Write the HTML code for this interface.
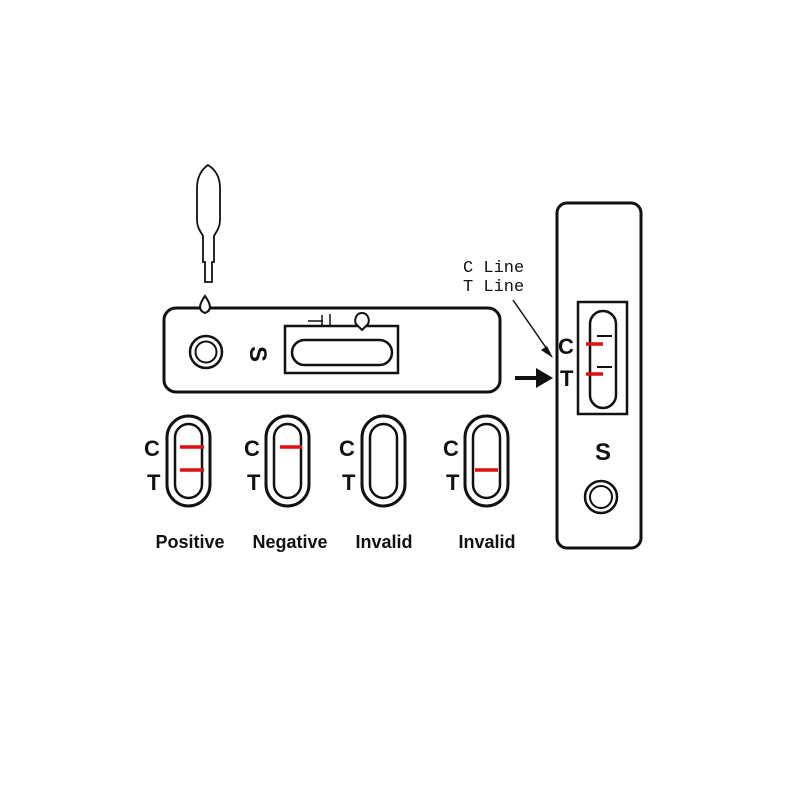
<!DOCTYPE html>
<html><head><style>body{margin:0;background:#fff}</style></head><body>
<svg width="800" height="800" xmlns="http://www.w3.org/2000/svg" font-family="Liberation Sans, sans-serif">
<rect width="800" height="800" fill="#fff"/>
<g fill="none" stroke="#111" stroke-width="2">
<!-- dropper -->
<path d="M208,165 C201,170 197,178 197,188 L197,220 C197,228 201,232 203,236 L203,262 L205,262 L205,282 L212,282 L212,262 L214,262 L214,236 C216,232 220,228 220,220 L220,188 C220,178 216,170 208,165 Z" fill="#fff" stroke-width="1.8"/>
<!-- horizontal cassette -->
<rect x="164" y="308" width="336" height="84" rx="12" stroke-width="3"/>
<path d="M205,296 C200,303 197,310 205,313 C213,310 210,303 205,296 Z" fill="#fff"/>
<circle cx="206" cy="352" r="16" stroke-width="2.5"/>
<circle cx="206" cy="352" r="10.5" stroke-width="2"/>
<rect x="285" y="326" width="113" height="47" stroke-width="2.5"/>
<rect x="292" y="340" width="100" height="25" rx="12.5" stroke-width="2.5"/>
<path d="M308,321 H323 M322,315 V327 M330,314 V327" stroke-width="1.5"/>
<path d="M362,313 C356,313 354,320 356,324 L362,330 L368,324 C370,320 368,313 362,313 Z" fill="#fff"/>
<!-- vertical cassette -->
<rect x="557" y="203" width="84" height="345" rx="10" stroke-width="3"/>
<rect x="578" y="302" width="49" height="112" stroke-width="2.5"/>
<rect x="590" y="311" width="26" height="97" rx="13" stroke-width="2.5"/>
<path d="M597,336 H612 M597,367 H612" stroke-width="2"/>
<circle cx="601" cy="497" r="16" stroke-width="2.5"/>
<circle cx="601" cy="497" r="11" stroke-width="2"/>
<path d="M513,300 L549,352" stroke-width="1.5"/>
<path d="M515,378 H540" stroke-width="4"/>
</g>
<path d="M553,358 L541,350 L547,346 Z" fill="#111"/>
<path d="M553,378 L536,368 L536,388 Z" fill="#111"/>
<g fill="none" stroke="#d11" stroke-width="3.5">
<path d="M586,344 H603 M586,374 H603"/>
</g>
<g fill="#111" font-size="24" font-weight="bold">
<text x="250" y="362" transform="rotate(90 258 354)">S</text>
<text x="595" y="460">S</text>
<text x="558" y="354" font-size="22">C</text>
<text x="560" y="386" font-size="22">T</text>
</g>
<g fill="#111" font-family="Liberation Mono, monospace" font-size="17">
<text x="463" y="272">C Line</text>
<text x="463" y="291">T Line</text>
</g>
<g fill="none" stroke="#111">
<g stroke-width="3">
<rect x="167" y="416" width="43" height="90" rx="21.5"/>
<rect x="266" y="416" width="43" height="90" rx="21.5"/>
<rect x="362" y="416" width="43" height="90" rx="21.5"/>
<rect x="465" y="416" width="43" height="90" rx="21.5"/>
</g>
<g stroke-width="2.5">
<rect x="175" y="424" width="27" height="74" rx="13.5"/>
<rect x="274" y="424" width="27" height="74" rx="13.5"/>
<rect x="370" y="424" width="27" height="74" rx="13.5"/>
<rect x="473" y="424" width="27" height="74" rx="13.5"/>
</g>
</g>
<g stroke="#d11" stroke-width="3.5">
<path d="M180,447 H204 M180,470 H204 M280,447 H302 M475,470 H498"/>
</g>
<g fill="#111" font-size="22" font-weight="bold">
<text x="144" y="456">C</text><text x="147" y="490">T</text>
<text x="244" y="456">C</text><text x="247" y="490">T</text>
<text x="339" y="456">C</text><text x="342" y="490">T</text>
<text x="443" y="456">C</text><text x="446" y="490">T</text>
</g>
<g fill="#111" font-size="18" font-weight="bold" text-anchor="middle">
<text x="190" y="548">Positive</text>
<text x="290" y="548">Negative</text>
<text x="384" y="548">Invalid</text>
<text x="487" y="548">Invalid</text>
</g>
</svg>
</body></html>
